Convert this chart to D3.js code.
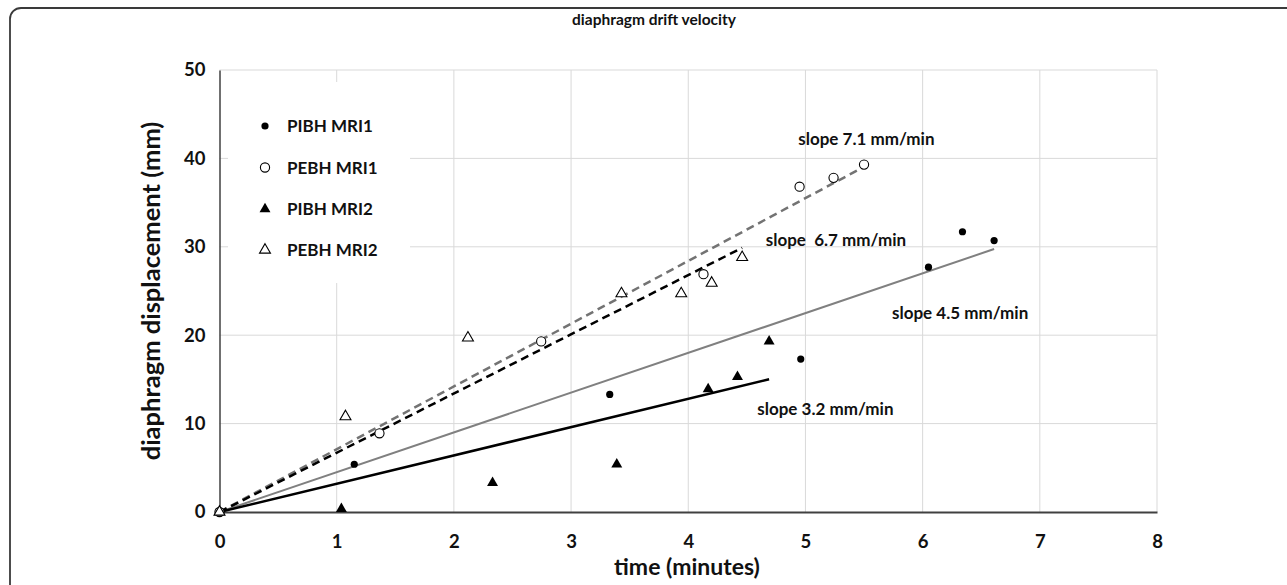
<!DOCTYPE html>
<html>
<head>
<meta charset="utf-8">
<script src="https://cdn.jsdelivr.net/npm/d3@7"></script>
<style>
  body { margin: 0; background: #fff; }
  text { font-family: Lato, "Open Sans", sans-serif; font-weight: bold; fill: #111; }
</style>
</head>
<body>
<div id="chart"></div>
<script>
const width = 1287
const height = 585

// data (time in minutes, displacement in mm)
const pibhMri1 = [[0,0],[1.15,5.4],[3.33,13.3],[4.96,17.3],[6.05,27.7],[6.34,31.7],[6.61,30.7]]
const pebhMri1 = [[0,0],[1.365,8.9],[2.745,19.3],[4.13,26.9],[4.95,36.8],[5.24,37.8],[5.5,39.3]]
const pibhMri2 = [[0,0],[1.04,0.35],[2.33,3.3],[3.39,5.4],[4.17,13.9],[4.42,15.3],[4.69,19.3]]
const pebhMri2 = [[0,0],[1.075,10.8],[2.12,19.7],[3.43,24.7],[3.94,24.7],[4.2,25.9],[4.46,28.8]]

const seriesNames = ["PIBH MRI1", "PEBH MRI1", "PIBH MRI2", "PEBH MRI2"]
const slopes = [4.5, 7.1, 3.2, 6.7]
const slopeLabels = ["slope 4.5 mm/min", "slope 7.1 mm/min", "slope 3.2 mm/min", "slope  6.7 mm/min"]
// label anchor in data units
const labelAt = [[6.32, 21.8], [5.52, 41.5], [5.17, 11.0], [5.26, 30.1]]

const xTicks = [0,1,2,3,4,5,6,7,8]
const yTicks = [0,10,20,30,40,50]

const margin = {top: 70, right: 130, bottom: 73, left: 219.5}

const svg = d3.select("#chart").append("svg")
    .attr("width", width)
    .attr("height", height)

// outer frame, only top and left edges fall inside the picture
svg.append("rect")
    .attr("x", 10).attr("y", 8)
    .attr("width", width + 20).attr("height", height + 20)
    .attr("rx", 11)
    .attr("fill", "none")
    .attr("stroke", "#3a3a3a")
    .attr("stroke-width", 1.8)

const x = d3.scaleLinear().domain([0, 8]).range([margin.left, width - margin.right])
const y = d3.scaleLinear().domain([0, 50]).range([height - margin.bottom, margin.top])

// grid
svg.append("g").selectAll("line").data(xTicks.slice(1)).join("line")
    .attr("x1", d => x(d)).attr("x2", d => x(d))
    .attr("y1", y(0)).attr("y2", y(50))
    .attr("stroke", "#d9d9d9").attr("stroke-width", 1)
svg.append("g").selectAll("line").data(yTicks.slice(1)).join("line")
    .attr("x1", x(0)).attr("x2", x(8))
    .attr("y1", d => y(d)).attr("y2", d => y(d))
    .attr("stroke", "#d9d9d9").attr("stroke-width", 1)

// legend box hides the grid under it
svg.append("rect")
    .attr("x", 228).attr("y", 82).attr("width", 182).attr("height", 201)
    .attr("fill", "#fff")

// axes
const xAxis = svg.append("g")
    .attr("transform", `translate(0,${y(0)})`)
    .call(d3.axisBottom(x).tickValues(xTicks).tickSize(0).tickPadding(23))
xAxis.select(".domain").attr("stroke", "#404040").attr("stroke-width", 2)
xAxis.selectAll("text").style("font-size", "18.5px").attr("fill", "#111")

const yAxis = svg.append("g")
    .attr("transform", `translate(${x(0)},0)`)
    .call(d3.axisLeft(y).tickValues(yTicks).tickSize(0).tickPadding(14))
yAxis.select(".domain").attr("stroke", "#404040").attr("stroke-width", 1.5)
yAxis.selectAll("text").style("font-size", "18.5px").attr("fill", "#111")

// trend lines through the origin
const lineStyle = [
  {stroke: "#808080", width: 2, dash: null},
  {stroke: "#737373", width: 2.5, dash: "8,5"},
  {stroke: "#000", width: 2.5, dash: null},
  {stroke: "#000", width: 2.5, dash: "8,5"}
]
const allSeries = [pibhMri1, pebhMri1, pibhMri2, pebhMri2]

allSeries.forEach((s, i) => {
    const xEnd = d3.max(s, d => d[0])
    svg.append("line")
        .attr("x1", x(0)).attr("y1", y(0))
        .attr("x2", x(xEnd)).attr("y2", y(slopes[i] * xEnd))
        .attr("stroke", lineStyle[i].stroke)
        .attr("stroke-width", lineStyle[i].width)
        .attr("stroke-dasharray", lineStyle[i].dash)
})

// markers
const tri = d3.symbol().type(d3.symbolTriangle).size(52)
function drawMarker(g, i) {
    if (i === 0) g.append("circle").attr("r", 3.6).attr("fill", "#000")
    if (i === 1) g.append("circle").attr("r", 4.6).attr("fill", "#fff").attr("stroke", "#000").attr("stroke-width", 1.1)
    if (i === 2) g.append("path").attr("d", tri).attr("fill", "#000")
    if (i === 3) g.append("path").attr("d", tri).attr("fill", "#fff").attr("stroke", "#000").attr("stroke-width", 1.1)
}

allSeries.forEach((s, i) => {
    svg.append("g").selectAll("g").data(s).join("g")
        .attr("transform", d => `translate(${x(d[0])},${y(d[1])})`)
        .each(function() { drawMarker(d3.select(this), i) })
})

// slope labels
slopeLabels.forEach((t, i) => {
    svg.append("text")
        .attr("x", x(labelAt[i][0])).attr("y", y(labelAt[i][1]))
        .attr("text-anchor", "middle")
        .style("font-size", "17px")
        .style("white-space", "pre")
        .text(t)
})

// legend
const legendRows = [126, 167.5, 209, 250]
seriesNames.forEach((name, i) => {
    const g = svg.append("g").attr("transform", `translate(265,${legendRows[i]})`)
    drawMarker(g, i)
    svg.append("text")
        .attr("x", 287).attr("y", legendRows[i] + 6)
        .style("font-size", "17px")
        .text(name)
})

// titles
svg.append("text")
    .attr("x", 654).attr("y", 25)
    .attr("text-anchor", "middle")
    .style("font-size", "15.5px")
    .text("diaphragm drift velocity")

svg.append("text")
    .attr("x", 687).attr("y", 575)
    .attr("text-anchor", "middle")
    .style("font-size", "23px")
    .text("time (minutes)")

svg.append("text")
    .attr("transform", `translate(160,${(y(0) + y(50)) / 2}) rotate(-90)`)
    .attr("text-anchor", "middle")
    .style("font-size", "25.5px")
    .text("diaphragm displacement (mm)")
</script>
</body>
</html>
